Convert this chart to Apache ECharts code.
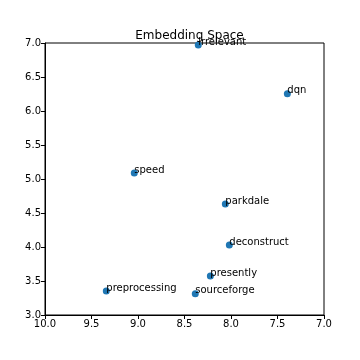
<!DOCTYPE html>
<html><head><meta charset="utf-8">
<script src="https://cdn.jsdelivr.net/npm/echarts@6/dist/echarts.min.js"></script>
<style>html,body{margin:0;padding:0;background:#fff}#c{width:360px;height:360px}</style>
</head><body><div id="c"></div>
<script>
const words = ['irrelevant','dqn','speed','parkdale','deconstruct','presently','preprocessing','sourceforge'];
const xs = [8.352, 7.394, 9.04, 8.061, 8.018, 8.222, 9.341, 8.384];
const ys = [6.97, 6.254, 5.088, 4.632, 4.029, 3.574, 3.353, 3.313];
const xTicks = [7.0, 7.5, 8.0, 8.5, 9.0, 9.5, 10.0];
const yTicks = [3.0, 3.5, 4.0, 4.5, 5.0, 5.5, 6.0, 6.5, 7.0];

const font = 'DejaVu Sans';
const data = words.map((w, i) => ({ name: w, value: [xs[i], ys[i]] }));
const chart = echarts.init(document.getElementById('c'), null, { renderer: 'canvas' });
chart.setOption({
  animation: false,
  title: {
    text: 'Embedding Space', left: 184.5, top: 25, textAlign: 'center',
    textStyle: { fontFamily: font, fontSize: 12, fontWeight: 'normal', color: '#000' }
  },
  grid: { left: 45, right: 36, top: 43, bottom: 45, show: true, borderColor: '#000', borderWidth: 1, backgroundColor: 'transparent' },
  xAxis: {
    type: 'value', inverse: true, min: xTicks[0], max: xTicks[xTicks.length - 1], interval: 0.5,
    splitLine: { show: false },
    axisLine: { show: true, onZero: false, lineStyle: { color: '#000', width: 1 } },
    axisTick: { show: true, inside: false, length: 4, lineStyle: { color: '#000' } },
    axisLabel: { fontFamily: font, fontSize: 10, color: '#000', margin: 4, formatter: v => v.toFixed(1) }
  },
  yAxis: {
    type: 'value', min: yTicks[0], max: yTicks[yTicks.length - 1], interval: 0.5,
    splitLine: { show: false },
    axisLine: { show: true, onZero: false, lineStyle: { color: '#000', width: 1 } },
    axisTick: { show: true, inside: false, length: 4, lineStyle: { color: '#000' } },
    axisLabel: { fontFamily: font, fontSize: 10, color: '#000', margin: 4, formatter: v => v.toFixed(1) }
  },
  series: [{
    type: 'scatter', data: data, symbolSize: 7,
    itemStyle: { color: '#1f77b4', opacity: 1 },
    label: {
      show: true, formatter: p => p.name, position: [3.5, 5.5], align: 'left', verticalAlign: 'bottom',
      fontFamily: font, fontSize: 10, color: '#000'
    }
  }]
});
</script></body></html>
